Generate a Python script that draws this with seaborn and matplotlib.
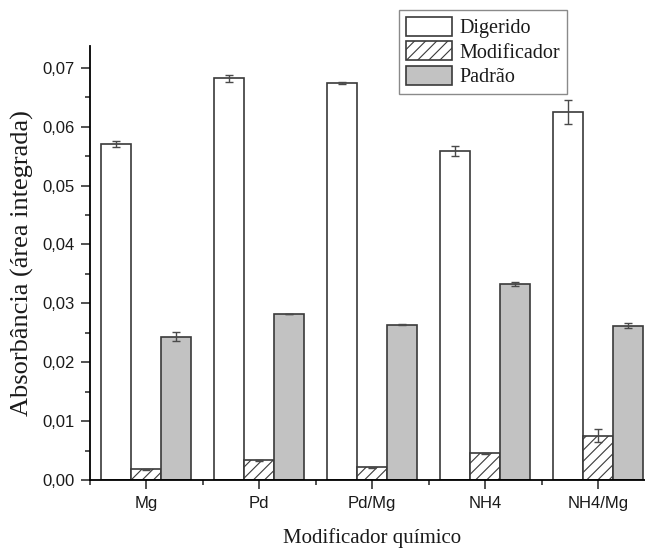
import matplotlib
matplotlib.use("Agg")
import matplotlib.pyplot as plt
from matplotlib.patches import Patch
from matplotlib.ticker import MultipleLocator, FuncFormatter, FixedLocator
import numpy as np
import pandas as pd
import seaborn as sns

# Absorbance (integrated area) per chemical modifier
modificadores = ["Mg", "Pd", "Pd/Mg", "NH4", "NH4/Mg"]
series = ["Digerido", "Modificador", "Padrão"]

digerido = [0.0571, 0.0682, 0.0674, 0.0559, 0.0625]
digerido_err = [0.0005, 0.0006, 0.0002, 0.0008, 0.0020]

modificador = [0.0018, 0.00335, 0.00216, 0.00453, 0.00748]
modificador_err = [0.0001, 0.0001, 0.00005, 0.0001, 0.0011]

padrao = [0.02435, 0.0282, 0.02639, 0.0333, 0.0262]
padrao_err = [0.0008, 0.00005, 0.00005, 0.0004, 0.0004]

values = {"Digerido": digerido, "Modificador": modificador, "Padrão": padrao}
errors = {"Digerido": digerido_err, "Modificador": modificador_err, "Padrão": padrao_err}

df = pd.DataFrame([
    {"modificador": m, "serie": s, "abs": values[s][i], "err": errors[s][i]}
    for s in series for i, m in enumerate(modificadores)
])

sns.set_theme(style="white")
plt.rcParams["hatch.color"] = "#555555"
plt.rcParams["hatch.linewidth"] = 0.8

fills = {"Digerido": "white", "Modificador": "white", "Padrão": "#c2c2c2"}
hatches = {"Digerido": "", "Modificador": "///", "Padrão": ""}
edge = "#3a3a3a"

fig = plt.figure(figsize=(6.45, 5.48), dpi=100)
ax = fig.add_axes([0.1388, 0.1241, 0.8764, 0.792])

sns.barplot(data=df, x="modificador", y="abs", hue="serie", order=modificadores,
            hue_order=series, palette=fills, errorbar=None, width=0.8,
            edgecolor=edge, linewidth=1.2, saturation=1, ax=ax, legend=False)

for s, cont in zip(series, ax.containers):
    for i, bar in enumerate(cont):
        bar.set_hatch(hatches[s])
        bar.set_edgecolor(edge)
        cx = bar.get_x() + bar.get_width() / 2
        ax.errorbar(cx, values[s][i], yerr=errors[s][i], fmt="none",
                    ecolor="#4a4a4a", elinewidth=1.0, capsize=3, capthick=1.0,
                    zorder=5)

ax.set_xlim(-0.5, 4.5)
ax.set_ylim(0, 0.0737)

ax.yaxis.set_major_locator(MultipleLocator(0.01))
ax.yaxis.set_minor_locator(MultipleLocator(0.005))
ax.yaxis.set_major_formatter(FuncFormatter(lambda v, p: f"{v:.2f}".replace(".", ",")))
ax.xaxis.set_minor_locator(FixedLocator(np.arange(-0.5, 4.6, 1.0)))

for side in ["top", "right"]:
    ax.spines[side].set_visible(False)
for side in ["left", "bottom"]:
    ax.spines[side].set_color("black")
    ax.spines[side].set_linewidth(1.3)

ax.tick_params(axis="both", which="major", direction="out", length=6.5, width=1.1,
               color="#222222", labelsize=12, labelcolor="#1a1a1a",
               left=True, bottom=True, pad=4)
ax.tick_params(axis="both", which="minor", direction="out", length=3.5, width=1.1,
               color="#222222", left=True, bottom=True)
for lab in ax.get_xticklabels() + ax.get_yticklabels():
    lab.set_family("Liberation Sans")
ax.tick_params(axis="x", which="major", pad=5)

ax.set_xlabel("Modificador químico", family="Liberation Serif", fontsize=15,
              color="#1a1a1a", labelpad=12)
ax.set_ylabel("Absorbância (área integrada)", family="Liberation Serif", fontsize=19,
              color="#1a1a1a", labelpad=6)

handles = [Patch(facecolor=fills[s], edgecolor=edge, hatch=hatches[s], linewidth=1.2)
           for s in series]
leg = fig.legend(handles, series, loc="upper left",
                 bbox_to_anchor=(399 / 645, 1 - 9.5 / 548), bbox_transform=fig.transFigure,
                 prop={"family": "Liberation Serif", "size": 14.5},
                 handlelength=2.3, handleheight=1.1, labelspacing=0.15,
                 borderpad=0.35, handletextpad=0.35, borderaxespad=0,
                 fancybox=False, framealpha=1, edgecolor="#8a8a8a")
leg.get_frame().set_linewidth(1.0)
for t in leg.get_texts():
    t.set_color("#1a1a1a")

fig.savefig("out.png", dpi=100)
